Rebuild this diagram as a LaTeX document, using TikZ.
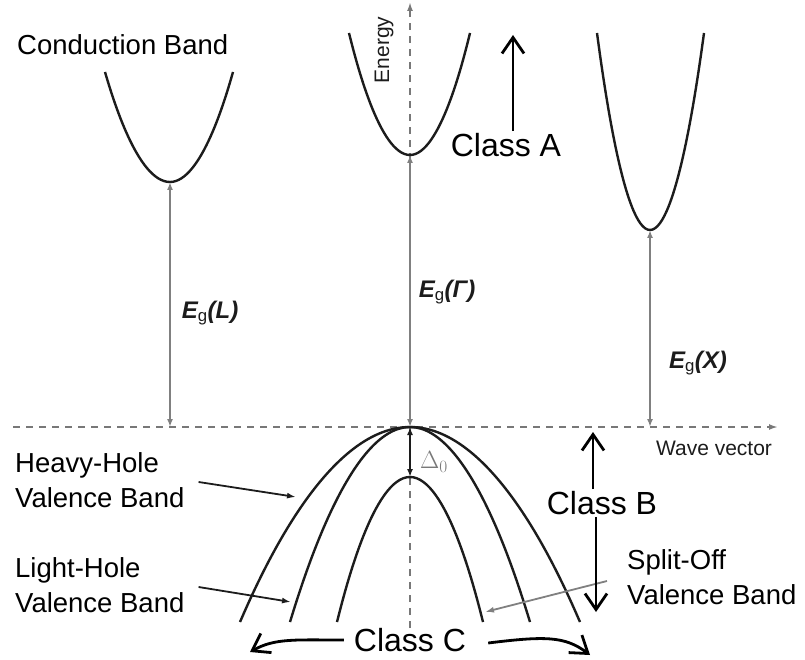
\documentclass[tikz,border=0pt]{standalone}
\usepackage{fontspec}
\setmainfont{Liberation Sans}
\usetikzlibrary{arrows.meta}
\definecolor{bandInk}{RGB}{28,28,28}
\definecolor{gapGray}{RGB}{128,128,128}
\definecolor{axisGray}{RGB}{120,120,120}

\tikzset{
  band/.style={line width=2.4pt,bandInk},
  gaparrow/.style={line width=2pt,gapGray,{Latex[length=8pt,width=6pt]}-{Latex[length=8pt,width=6pt]}},
  axisline/.style={line width=1.8pt,axisGray,dash pattern=on 7pt off 6pt,-{Latex[length=9pt,width=6pt]}},
  classarrow/.style={line width=2.8pt,black,-{Straight Barb[length=16pt,width=22pt,line width=2.8pt]}},
  pointer/.style={line width=1.8pt,bandInk,-{Latex[length=9pt,width=6pt]}},
  bandlbl/.style={font=\fontsize{27.5pt}{35pt}\selectfont,align=left,inner sep=0pt},
  classlbl/.style={font=\fontsize{32pt}{38pt}\selectfont,inner sep=2pt},
  axislbl/.style={font=\fontsize{21pt}{24pt}\selectfont,text=bandInk,inner sep=0pt},
  gaplbl/.style={font=\fontsize{24pt}{28pt}\selectfont\bfseries\itshape,text=bandInk,inner sep=0pt},
}

\begin{document}
\begin{tikzpicture}[x=1pt,y=-1pt]
  \useasboundingbox (0,0) rectangle (805,660);

  \coordinate (kStart) at (13,427);
  \coordinate (kEnd) at (778,427);
  \coordinate (eStart) at (410,628);
  \coordinate (eEnd) at (410,2);
  \draw[axisline] (kStart) -- (kEnd);
  \draw[axisline] (eStart) -- (eEnd);
  \node[axislbl,rotate=90] (energy) at (384,50) {Energy};
  \node[axislbl] (wavevec) at (714,448) {Wave vector};

  \coordinate (cbL) at (170,182);
  \coordinate (cbG) at (410,155);
  \coordinate (cbX) at (650,230);
  \draw[band] (105,72) parabola bend (cbL) (233,72);
  \draw[band] (349,33) parabola bend (cbG) (470,33);
  \draw[band] (597,33) parabola bend (cbX) (704,33);

  \coordinate (vbTop) at (410,427);
  \coordinate (soTop) at (410,477);
  \draw[band] (240,622) parabola bend (vbTop) (580,622);
  \draw[band] (290,622) parabola bend (vbTop) (530,622);
  \draw[band] (337,622) parabola bend (soTop) (483,622);

  \coordinate (axL) at (170,427);
  \coordinate (axX) at (650,427);
  \draw[gaparrow] (cbL) -- (axL);
  \draw[gaparrow] (cbG) -- (vbTop);
  \draw[gaparrow] (cbX) -- (axX);
  \draw[gaparrow,bandInk] (vbTop) -- (soTop);

  \node[gaplbl] (egL) at (210,313) {E\textsubscript{\normalfont g}(L)};
  \node[gaplbl] (egG) at (447,292) {E\textsubscript{\normalfont g}(Γ)};
  \node[gaplbl] (egX) at (698,363) {E\textsubscript{\normalfont g}(X)};
  \node[font=\fontsize{24pt}{26pt}\selectfont,text=axisGray] (delta) at (434,462) {$\Delta_0$};

  \node[bandlbl,anchor=west] (cbLabel) at (17,45) {Conduction Band};
  \node[bandlbl,anchor=west] (hhLabel) at (15,480) {Heavy-Hole\\Valence Band};
  \node[bandlbl,anchor=west] (lhLabel) at (15,585) {Light-Hole\\Valence Band};
  \node[bandlbl,anchor=west] (soLabel) at (627,577) {Split-Off\\Valence Band};

  \coordinate (hhTip) at (296,497);
  \coordinate (lhTip) at (291,602);
  \coordinate (soTip) at (485,612);
  \draw[pointer] ([xshift=14pt,yshift=-2pt]hhLabel.east) -- (hhTip);
  \draw[pointer] ([xshift=14pt,yshift=-2pt]lhLabel.east) -- (lhTip);
  \draw[pointer,gapGray] ([xshift=-20pt,yshift=-4pt]soLabel.west) -- (soTip);

  \node[classlbl] (classA) at (506,145) {Class A};
  \node[classlbl] (classB) at (602,503) {Class B};
  \node[classlbl] (classC) at (410,640) {Class C};

  \coordinate (aTip) at (513,35);
  \coordinate (bUp) at (593,432);
  \coordinate (bDown) at (596,612);
  \coordinate (cLeft) at (250,652);
  \coordinate (cRight) at (590,655);
  \draw[classarrow] (classA.north -| aTip) -- (aTip);
  \draw[classarrow] (classB.north -| bUp) -- (bUp);
  \draw[classarrow] (classB.south -| bDown) -- (bDown);
  \draw[classarrow] ([xshift=-8pt]classC.west) .. controls (295,640) and (275,638) .. (cLeft);
  \draw[classarrow] ([xshift=20pt,yshift=-3pt]classC.east) .. controls (545,636) and (565,636) .. (cRight);
\end{tikzpicture}
\end{document}
